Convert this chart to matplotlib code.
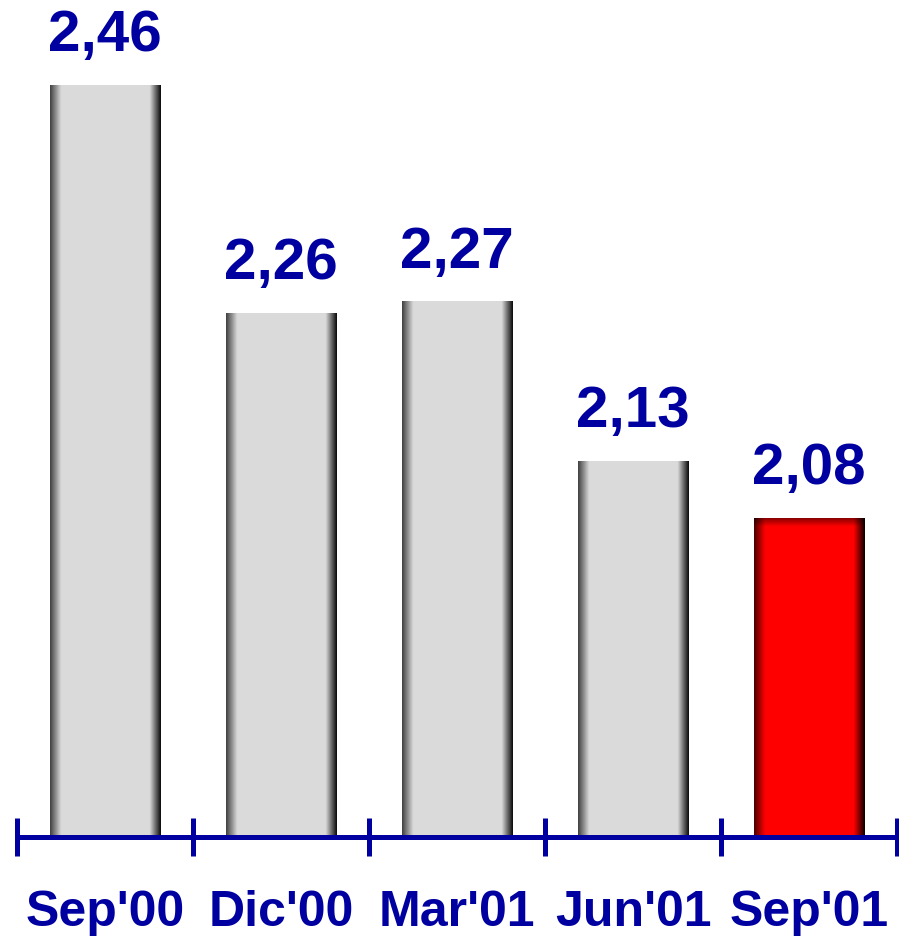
import numpy as np
import matplotlib
matplotlib.use('Agg')
import matplotlib.pyplot as plt

# datos del gráfico
periodos = ["Sep'00", "Dic'00", "Mar'01", "Jun'01", "Sep'01"]
valores = [2.46, 2.26, 2.27, 2.13, 2.08]
etiquetas = ['2,46', '2,26', '2,27', '2,13', '2,08']
destacado = [False, False, False, False, True]

azul = '#0000A0'
plt.rcParams['font.family'] = ['Liberation Sans', 'DejaVu Sans']
plt.rcParams['font.weight'] = 'bold'

fig = plt.figure(figsize=(8.99, 9.38), dpi=100)
ax = fig.add_axes([17 / 899, 101 / 938, 880 / 899, 837 / 938])

base = 1.8
px_unidad = 1140.0
x = np.arange(len(valores))
barras = ax.bar(x, np.array(valores) - base, bottom=base, width=0.63,
                facecolor='none', edgecolor='none')


def perfil(n=200):
    # brillo a lo ancho de la barra: bordes oscuros, centro claro
    t = np.linspace(0, 1, n)
    e = 0.1
    f = np.ones(n)
    izq = t < e
    f[izq] = 0.3 + 0.7 * (t[izq] / e)
    der = t > 1 - e
    f[der] = 0.05 + 0.95 * ((1 - t[der]) / e)
    return f


f = perfil()
for rect, rojo in zip(barras, destacado):
    x0, y0 = rect.get_x(), rect.get_y()
    x1, y1 = x0 + rect.get_width(), y0 + rect.get_height()
    if rojo:
        col = np.array([1.0, 0.0, 0.0])
        alto_px = rect.get_height() * px_unidad
        ny = int(alto_px)
        s = np.linspace(0, alto_px, ny)  # px desde arriba
        g = np.clip(0.5 + 0.5 * s / 9.0, 0, 1)
        img = g[:, None, None] * f[None, :, None] * col[None, None, :]
    else:
        col = np.array([0.855, 0.855, 0.855])
        img = (f[:, None] * col[None, :])[None, :, :]
    im = ax.imshow(img, extent=(x0, x1, y0, y1), aspect='auto',
                   interpolation='bilinear', zorder=2)
    im.set_clip_path(rect)

for xi, v, txt in zip(x, valores, etiquetas):
    ax.annotate(txt, (xi, v), xytext=(0, 24), textcoords='offset points',
                ha='center', va='baseline', fontsize=42, color=azul,
                fontweight='bold')

ax.set_xlim(-0.5, 4.5)
ax.set_ylim(base, base + 837 / px_unidad)

for s in ['top', 'left', 'right']:
    ax.spines[s].set_visible(False)
ax.spines['bottom'].set_color(azul)
ax.spines['bottom'].set_linewidth(3.6)
ax.spines['bottom'].set_zorder(3)

ax.set_yticks([])
ax.set_xticks(np.arange(-0.5, 5, 1.0))
ax.set_xticklabels([])
ax.tick_params(axis='x', which='major', direction='inout', length=27,
               width=3.6, color=azul)
ax.set_xticks(x, minor=True)
ax.set_xticklabels(periodos, minor=True)
ax.tick_params(axis='x', which='minor', length=0, pad=38,
               labelsize=36, labelcolor=azul)
for lab in ax.get_xticklabels(minor=True):
    lab.set_fontweight('bold')

ax.patch.set_visible(False)
fig.savefig('out.png', dpi=100)
